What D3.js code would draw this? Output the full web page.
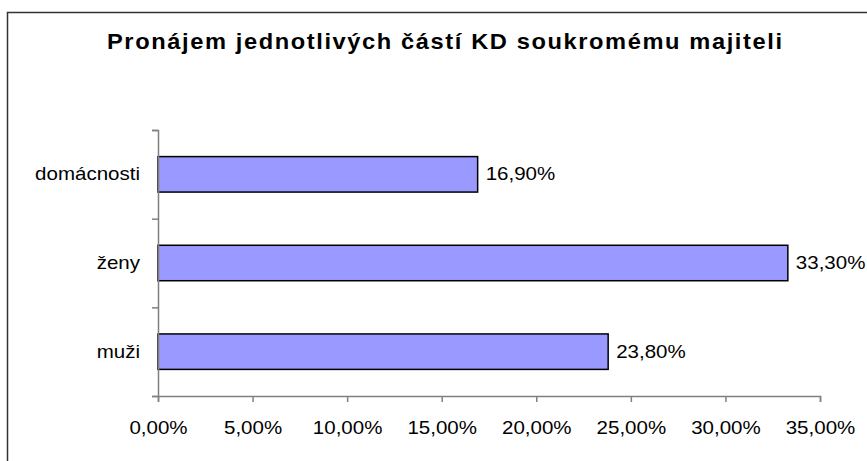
<!DOCTYPE html>
<html>
<head>
<meta charset="utf-8">
<script src="https://cdn.jsdelivr.net/npm/d3@7"></script>
<style>
  body { margin: 0; background: #fff; }
  svg { display: block; font-family: "Liberation Sans", Arial, sans-serif; }
</style>
</head>
<body>
<svg id="chart" width="867" height="461"></svg>
<script>
const title = "Pronájem jednotlivých částí KD soukromému majiteli";
const categories = ["domácnosti", "ženy", "muži"];
const values = [16.9, 33.3, 23.8];
const xTicks = [0, 5, 10, 15, 20, 25, 30, 35];

const svg = d3.select("#chart");
const margin = { top: 130, left: 158, right: 47, bottom: 65 };
const width = 867 - margin.left - margin.right;
const height = 461 - margin.top - margin.bottom;

const fmt = v => v.toFixed(2).replace(".", ",") + "%";
// the original text is a bit wide, so stretch it horizontally
const fs = 17.7, sx = 1.16;

// chart frame (cut off at right and bottom)
svg.append("path")
    .attr("d", "M7.5,470V12.5H880")
    .attr("fill", "none")
    .attr("stroke", "#333")
    .attr("stroke-width", 1.5);

svg.append("text")
    .attr("transform", `translate(107,49) scale(1.1,1)`)
    .attr("font-size", 21.5)
    .attr("font-weight", "bold")
    .attr("textLength", 675 / 1.1)
    .attr("lengthAdjust", "spacing")
    .text(title);

const g = svg.append("g")
    .attr("transform", `translate(${margin.left},${margin.top})`);

const x = d3.scaleLinear().domain([0, 35]).range([0, width]);
const y = d3.scaleBand().domain(categories).range([0, height]).paddingInner(0.6).paddingOuter(0.3);

g.selectAll("rect")
    .data(categories)
    .join("rect")
    .attr("x", 0)
    .attr("y", d => y(d))
    .attr("width", (d, i) => x(values[i]))
    .attr("height", y.bandwidth())
    .attr("fill", "#9999ff")
    .attr("stroke", "#000")
    .attr("stroke-width", 1.5);

g.selectAll(".val")
    .data(categories)
    .join("text")
    .attr("class", "val")
    .attr("transform", (d, i) => `translate(${x(values[i]) + 8},${y(d) + y.bandwidth() / 2}) scale(${sx},1)`)
    .attr("dy", "0.33em")
    .attr("font-size", fs)
    .text((d, i) => fmt(values[i]));

const xAxis = g.append("g")
    .attr("transform", `translate(0,${height})`)
    .call(d3.axisBottom(x).tickValues(xTicks).tickSize(6).tickPadding(19).tickFormat(fmt));

// y axis: ticks at band boundaries
const yLine = d3.scaleLinear().domain([0, 3]).range([0, height]);
const yAxis = g.append("g")
    .call(d3.axisLeft(yLine).tickValues([0, 1, 2, 3]).tickSize(6).tickFormat(""));

g.selectAll(".cat")
    .data(categories)
    .join("text")
    .attr("class", "cat")
    .attr("transform", d => `translate(-18,${y(d) + y.bandwidth() / 2}) scale(${sx},1)`)
    .attr("dy", "0.33em")
    .attr("text-anchor", "end")
    .attr("font-size", fs)
    .text(d => d);

[xAxis, yAxis].forEach(a => {
    a.select(".domain").attr("stroke", "#808080").attr("stroke-width", 1.5);
    a.selectAll(".tick line").attr("stroke", "#808080").attr("stroke-width", 1.5);
    a.selectAll("text")
        .attr("font-size", fs)
        .attr("transform", `scale(${sx},1)`)
        .attr("fill", "#000")
        .attr("font-family", "Liberation Sans, Arial, sans-serif");
});
</script>
</body>
</html>
